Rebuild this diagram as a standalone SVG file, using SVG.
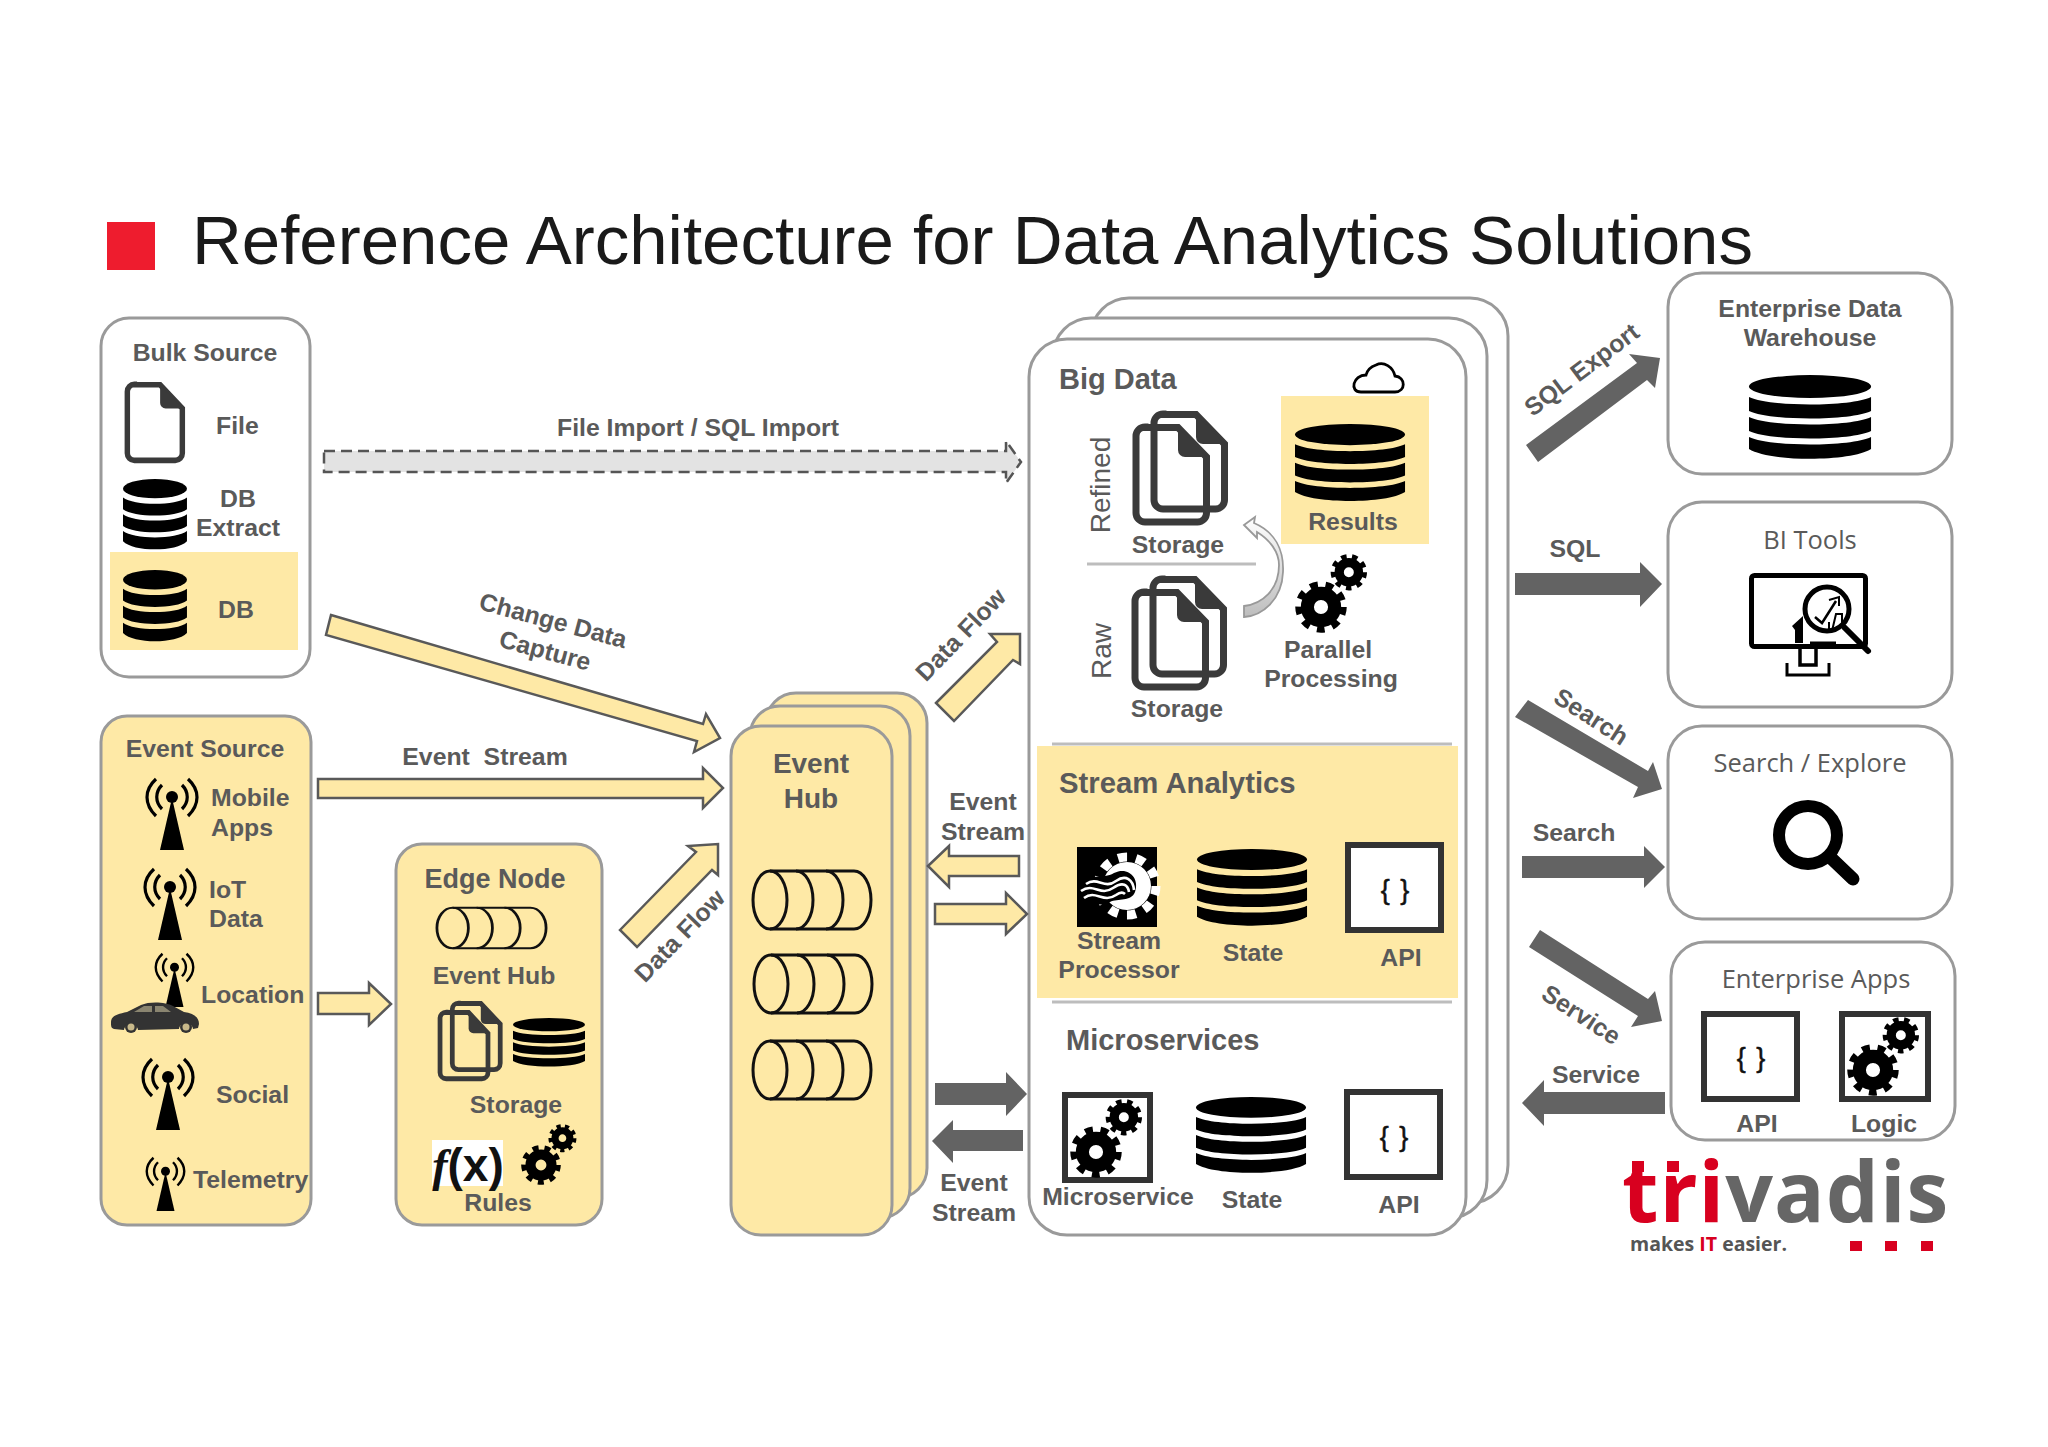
<svg xmlns="http://www.w3.org/2000/svg" width="2048" height="1447" viewBox="0 0 2048 1447">
<style>
text{font-family:"Liberation Sans",Arial,sans-serif}
text:not([transform]){transform:translateY(1px)}
.l{font-weight:700;font-size:24.8px;fill:#5a5a5a}
.m{text-anchor:middle}
.o{font-family:"Open Sans",sans-serif;font-weight:400;font-size:25.5px;fill:#5a5a5a;text-anchor:middle}
.box{fill:#fff;stroke:#9a9a9a;stroke-width:3}
.ybox{fill:#fee9a6;stroke:#9a9a9a;stroke-width:3}
.hl{fill:#fee9a6}
.ya{fill:#fee9a6;stroke:#595959;stroke-width:2.5}
.da{fill:#636363}
.sep{stroke:#bdbdbd;stroke-width:3}
.api{fill:#fff;stroke:#333;stroke-width:6}
.br{font-weight:400;font-size:27px;fill:#111;text-anchor:middle;word-spacing:3px;stroke:#111;stroke-width:.5}
</style>
<defs>
<g id="db">
<ellipse cx="60" cy="11.5" rx="60" ry="11.5"/>
<path d="M0,22 C20,32 100,32 120,22 V36 C100,46 20,46 0,36 Z"/>
<path d="M0,42 C20,52 100,52 120,42 V56 C100,66 20,66 0,56 Z"/>
<path d="M0,62 C20,72 100,72 120,62 V74 C100,87 20,87 0,74 Z"/>
</g>
<g id="tower" fill="none" stroke="#000" stroke-width="3.2">
<circle cx="26" cy="19" r="6" fill="#000" stroke="none"/>
<path d="M26,20 L38,72 H14 Z" fill="#000" stroke="none"/>
<path d="M10,1 C-2,12 -2,26 10,38"/><path d="M42,1 C54,12 54,26 42,38"/>
<path d="M16,7 C9,14 9,24 16,31"/><path d="M36,7 C43,14 43,24 36,31"/>
</g>
<g id="gear" fill="none" stroke="#000">
<circle r="27" stroke-width="26"/>
<circle r="44" stroke-width="14" stroke-dasharray="15.36 15.36"/>
</g>
<g id="gears">
<use href="#gear" transform="translate(0,0) scale(.58)"/>
<use href="#gear" transform="translate(32,-40) scale(.41)"/>
</g>
<g id="file">
<path d="M12,3.5 H45 L73.5,33 V89 a9,9 0 0 1 -9,9 H12 a9,9 0 0 1 -9,-9 V12 a9,9 0 0 1 9,-9 Z" fill="none" stroke="#3a3a3a" stroke-width="7"/>
<path d="M45,3.5 L73.5,33 H52 a7,7 0 0 1 -7,-7 Z" fill="#3a3a3a"/>
</g>
<g id="docs">
<use href="#file" x="18" y="0"/>
<use href="#file" x="0" y="13"/>
</g>
<g id="pipe" fill="none" stroke="#111" stroke-width="3">
<ellipse cx="18" cy="30" rx="17" ry="29"/>
<path d="M18,1 H102 A17,29 0 0 1 102,59 H18"/>
<path d="M44,1 A17,29 0 0 1 44,59"/>
<path d="M74,1 A17,29 0 0 1 74,59"/>
</g>
<linearGradient id="cg" x1="0" y1="0" x2="0" y2="1"><stop offset="0" stop-color="#fff"/><stop offset="1" stop-color="#bdbdbd"/></linearGradient>
</defs>
<rect width="2048" height="1447" fill="#fff"/>

<g id="title">
<rect x="107" y="222" width="48" height="48" fill="#ee1c2e"/>
<text x="192" y="263" font-size="69" fill="#1a1a1a">Reference Architecture for Data Analytics Solutions</text>
</g>

<g id="bulk-source">
<rect class="box" x="101" y="318" width="209" height="359" rx="28"/>
<text class="l m" x="205" y="360">Bulk Source</text>
<use href="#file" transform="translate(125,382) scale(.78,.8)"/>
<text class="l" x="216" y="433">File</text>
<use href="#db" transform="translate(123,479) scale(.533,.84)"/>
<text class="l m" x="238" y="506">DB</text>
<text class="l m" x="238" y="535">Extract</text>
<rect class="hl" x="110" y="552" width="188" height="98"/>
<use href="#db" transform="translate(123,570) scale(.533,.85)"/>
<text class="l m" x="236" y="617">DB</text>
</g>

<g id="event-source">
<rect class="ybox" x="101" y="716" width="210" height="509" rx="26"/>
<text class="l m" x="205" y="756">Event Source</text>
<use href="#tower" x="146" y="778"/>
<text class="l" x="211" y="805">Mobile</text>
<text class="l" x="211" y="835">Apps</text>
<use href="#tower" x="144" y="868"/>
<text class="l" x="209" y="897">IoT</text>
<text class="l" x="209" y="926">Data</text>
<use href="#tower" transform="translate(155,953) scale(.75)"/>
<path d="M111,1022 C111,1016 117,1014 127,1012 L141,1005 C150,1001 166,1002 173,1006 L184,1012 C193,1013 199,1017 199,1024 L198,1028 L193,1029 C192,1021 180,1021 179,1029 L138,1030 C137,1022 125,1022 124,1030 L114,1029 C111,1028 111,1026 111,1022 Z" fill="#333"/>
<path d="M134,1012 L144,1006 H152 V1012 Z M155,1006 H163 L171,1012 H155 Z" fill="#8a8570"/>
<circle cx="131" cy="1027" r="6" fill="#333"/><circle cx="131" cy="1027" r="3.5" fill="#c8b98a"/>
<circle cx="186" cy="1027" r="6" fill="#333"/><circle cx="186" cy="1027" r="3.5" fill="#c8b98a"/>
<text class="l" x="201" y="1002">Location</text>
<use href="#tower" x="142" y="1058"/>
<text class="l" x="216" y="1102">Social</text>
<use href="#tower" transform="translate(146,1157) scale(.75)"/>
<text class="l" x="193" y="1187">Telemetry</text>
</g>

<g id="edge-node">
<rect class="ybox" x="396" y="844" width="206" height="381" rx="26"/>
<text class="l m" x="495" y="887" style="font-size:27px">Edge Node</text>
<use href="#pipe" transform="translate(436,907) scale(.925,.7)"/>
<text class="l m" x="494" y="983">Event Hub</text>
<use href="#docs" transform="translate(438,1001) scale(.68,.7)"/>
<use href="#db" transform="translate(513,1018) scale(.6,.58)"/>
<text class="l m" x="516" y="1112">Storage</text>
<rect x="432" y="1140" width="71" height="46" fill="#fff"/>
<text x="468" y="1180" font-size="46" font-weight="700" fill="#111" text-anchor="middle"><tspan font-style="italic" font-family="Liberation Serif, serif">f</tspan>(x)</text>
<use href="#gears" transform="translate(541,1165) scale(.67)"/>
<text class="l m" x="498" y="1210">Rules</text>
</g>

<g id="event-hub">
<rect class="ybox" x="766" y="693" width="161" height="505" rx="30"/>
<rect class="ybox" x="750" y="706" width="160" height="512" rx="30"/>
<rect class="ybox" x="731" y="726" width="161" height="509" rx="30"/>
<text class="l m" x="811" y="772" style="font-size:28px">Event</text>
<text class="l m" x="811" y="807" style="font-size:28px">Hub</text>
<use href="#pipe" x="752" y="870"/>
<use href="#pipe" x="753" y="954"/>
<use href="#pipe" x="752" y="1040"/>
</g>

<g id="big-data">
<rect class="box" x="1091" y="298" width="417" height="905" rx="38"/>
<rect class="box" x="1053" y="318" width="434" height="900" rx="38"/>
<rect class="box" x="1029" y="339" width="437" height="896" rx="38"/>
<text class="l" x="1059" y="388" style="font-size:29px">Big Data</text>
<path d="M1361,392 H1395 C1406,392 1406,377 1395,376 C1393,367 1384,361 1376,365 C1370,367 1367,371 1366,375 C1353,375 1349,392 1361,392 Z" fill="#fff" stroke="#000" stroke-width="2.8"/>
<rect class="hl" x="1281" y="396" width="148" height="148"/>
<use href="#db" transform="translate(1295,424) scale(.917,.92)"/>
<text class="l m" x="1353" y="529">Results</text>
<text x="1110" y="485" transform="rotate(-90 1110 485)" font-size="28" fill="#5a5a5a" text-anchor="middle">Refined</text>
<use href="#docs" x="1133" y="411"/>
<text class="l m" x="1178" y="552">Storage</text>
<line class="sep" x1="1087" y1="564" x2="1256" y2="564"/>
<text x="1111" y="651" transform="rotate(-90 1111 651)" font-size="28" fill="#5a5a5a" text-anchor="middle">Raw</text>
<use href="#docs" x="1132" y="576"/>
<text class="l m" x="1177" y="716">Storage</text>
<path d="M1244,525 L1255,517 L1254,523 C1275,532 1284,550 1283,572 C1282,600 1262,616 1244,617 L1244,606 C1262,604 1279,590 1279,565 C1279,552 1270,540 1257,532 L1257,538 Z" fill="url(#cg)" stroke="#999" stroke-width="1.8"/>
<use href="#gears" transform="translate(1321,607) scale(.87)"/>
<text class="l m" x="1328" y="657">Parallel</text>
<text class="l m" x="1331" y="686">Processing</text>
</g>

<g id="stream-analytics">
<line class="sep" x1="1052" y1="744" x2="1452" y2="744"/>
<rect class="hl" x="1037" y="746" width="421" height="252"/>
<line class="sep" x1="1052" y1="1002" x2="1452" y2="1002"/>
<text class="l" x="1059" y="792" style="font-size:29.3px">Stream Analytics</text>
<rect x="1077" y="847" width="80" height="80" fill="#000"/>
<circle cx="1127" cy="886" r="24" fill="#fff"/>
<circle cx="1127" cy="886" r="29" fill="none" stroke="#fff" stroke-width="9" stroke-dasharray="9.1 9.1"/>
<path d="M1079,884 C1092,872 1102,880 1114,873 C1128,866 1140,878 1135,892 C1131,902 1118,898 1110,902 C1100,908 1088,902 1079,896 Z" fill="#000"/>
<g fill="none" stroke="#fff" stroke-width="2.6"><path d="M1086,884 C1098,876 1104,890 1116,881 C1126,874 1133,880 1134,890"/><path d="M1081,891 C1094,882 1100,897 1113,888 C1123,881 1128,885 1129,892"/><path d="M1084,898 C1096,889 1103,904 1116,895 C1120,892 1123,892 1125,894"/></g>
<text class="l m" x="1119" y="948">Stream</text>
<text class="l m" x="1119" y="977">Processor</text>
<use href="#db" transform="translate(1197,849) scale(.917,.915)"/>
<text class="l m" x="1253" y="960">State</text>
<rect class="api" x="1348" y="845" width="93" height="85"/>
<text class="br" x="1395" y="898">{ }</text>
<text class="l m" x="1401" y="965">API</text>
</g>

<g id="microservices">
<text class="l" x="1066" y="1049" style="font-size:29px">Microservices</text>
<rect class="api" x="1065" y="1095" width="85" height="85"/>
<use href="#gears" transform="translate(1096,1152) scale(.87)"/>
<text class="l m" x="1118" y="1204">Microservice</text>
<use href="#db" transform="translate(1196,1097) scale(.917,.905)"/>
<text class="l m" x="1252" y="1207">State</text>
<rect class="api" x="1347" y="1092" width="93" height="85"/>
<text class="br" x="1394" y="1145">{ }</text>
<text class="l m" x="1399" y="1212">API</text>
</g>

<g id="enterprise-dw">
<rect class="box" x="1668" y="273" width="284" height="201" rx="34"/>
<text class="l m" x="1810" y="316">Enterprise Data</text>
<text class="l m" x="1810" y="345">Warehouse</text>
<use href="#db" transform="translate(1749,375) scale(1.017,1)"/>
</g>

<g id="bi-tools">
<rect class="box" x="1668" y="502" width="284" height="205" rx="34"/>
<text class="o" x="1810" y="548">BI Tools</text>
<rect x="1751.5" y="575.5" width="114" height="71" rx="3" fill="#fff" stroke="#000" stroke-width="5"/>
<path d="M1800,648 V665 H1816 V648" fill="none" stroke="#000" stroke-width="3.5"/>
<path d="M1787,663 V675 H1829 V663" fill="none" stroke="#000" stroke-width="3"/>
<path d="M1792,626 L1803,616 V643 H1795 V630 Z" fill="#000"/>
<circle cx="1827" cy="609" r="22" fill="#fff" stroke="#000" stroke-width="5"/>
<line x1="1845" y1="628" x2="1868" y2="651" stroke="#000" stroke-width="6" stroke-linecap="round"/>
<path d="M1815,617 L1822,623 L1836,601" fill="none" stroke="#000" stroke-width="2.5"/>
<path d="M1829,600 L1839,597 V606 M1829,622 V630 M1836,614 H1842 V625 L1832,631 Z" fill="none" stroke="#000" stroke-width="2"/>
<path d="M1810,643 H1836" stroke="#000" stroke-width="3"/>
</g>

<g id="search-explore">
<rect class="box" x="1668" y="726" width="284" height="193" rx="34"/>
<text class="o" x="1810" y="771">Search / Explore</text>
<circle cx="1808" cy="835" r="29" fill="none" stroke="#000" stroke-width="12"/>
<line x1="1831" y1="858" x2="1853" y2="879" stroke="#000" stroke-width="13" stroke-linecap="round"/>
</g>

<g id="enterprise-apps">
<rect class="box" x="1671" y="942" width="284" height="198" rx="34"/>
<text class="o" x="1816" y="987">Enterprise Apps</text>
<rect class="api" x="1704" y="1014" width="93" height="85"/>
<text class="br" x="1751" y="1066">{ }</text>
<text class="l m" x="1757" y="1131">API</text>
<rect class="api" x="1842" y="1014" width="86" height="85"/>
<use href="#gears" transform="translate(1873,1070) scale(.87)"/>
<text class="l m" x="1884" y="1131">Logic</text>
</g>

<g id="connectors">
<path d="M324,451 H1006 V441 L1021,462 L1006,483 V472 H324 Z" fill="#e3e3e3" stroke="#555" stroke-width="2.5" stroke-dasharray="11 6"/>
<text class="l m" x="698" y="435">File Import / SQL Import</text>
<polygon class="ya" points="331,615 703,724 706,714 720,738 694,752 697,741 326,635"/>
<text class="l m" transform="translate(553,621) rotate(15)" y="8">Change Data</text>
<text class="l m" transform="translate(545,651) rotate(15)" y="8">Capture</text>
<polygon class="ya" points="318,779 703,779 703,768 723,788 703,808 703,798 318,798"/>
<text class="l m" x="485" y="764" xml:space="preserve">Event  Stream</text>
<polygon class="ya" points="318,993 369,993 369,983 391,1004 369,1025 369,1014 318,1014"/>
<polygon class="ya" points="620,930 696,852 688,846 718,844 718,875 712,870 637,947"/>
<text class="l m" transform="translate(680,936) rotate(-46)" y="8">Data Flow</text>
<polygon class="ya" points="936,703 997,642 990,634 1020,634 1020,664 1013,660 954,721"/>
<text class="l m" transform="translate(961,635) rotate(-46)" y="8">Data Flow</text>
<text class="l m" x="983" y="809">Event</text>
<text class="l m" x="983" y="839">Stream</text>
<polygon class="ya" points="928,866 949,846 949,856 1019,856 1019,876 949,876 949,887"/>
<polygon class="ya" points="935,904 1006,904 1006,893 1027,914 1006,934 1006,924 935,924"/>
<polygon class="da" points="935,1083 1006,1083 1006,1072 1027,1094 1006,1116 1006,1105 935,1105"/>
<polygon class="da" points="932,1141 953,1120 953,1130 1023,1130 1023,1151 953,1151 953,1163"/>
<text class="l m" x="974" y="1190">Event</text>
<text class="l m" x="974" y="1220">Stream</text>
<polygon class="da" points="1526,445 1637,363 1629,354 1660,358 1655,388 1647,380 1538,462"/>
<text class="l m" transform="translate(1582,370) rotate(-37)" y="8">SQL Export</text>
<polygon class="da" points="1515,573 1640,573 1640,562 1662,584 1640,607 1640,595 1515,595"/>
<text class="l m" x="1575" y="556">SQL</text>
<polygon class="da" points="1528,700 1648,771 1653,762 1662,789 1633,798 1638,787 1515,717"/>
<text class="l m" transform="translate(1591,717) rotate(33)" y="8">Search</text>
<polygon class="da" points="1522,856 1644,856 1644,846 1665,867 1644,888 1644,878 1522,878"/>
<text class="l m" x="1574" y="840">Search</text>
<polygon class="da" points="1540,930 1648,999 1655,991 1662,1021 1631,1027 1638,1016 1529,947"/>
<text class="l m" transform="translate(1581,1015) rotate(33)" y="8">Service</text>
<polygon class="da" points="1665,1092 1544,1092 1544,1080 1522,1103 1544,1126 1544,1114 1665,1114"/>
<text class="l m" x="1596" y="1082">Service</text>
</g>

<g id="logo">
<text x="1622" y="1221" font-size="84" font-weight="700" letter-spacing="1" fill="#666" style="font-family:'Open Sans',sans-serif"><tspan fill="#d8001f">tri</tspan>vadis</text>
<rect x="1632" y="1161" width="12" height="11" fill="#d8001f"/>
<rect x="1667" y="1161" width="12" height="11" fill="#d8001f"/>
<text x="1630" y="1250" font-size="19.5" font-weight="700" fill="#555" style="font-family:'Open Sans',sans-serif">makes <tspan fill="#d8001f">IT</tspan> easier.</text>
<rect x="1850" y="1241" width="12" height="10" fill="#d8001f"/>
<rect x="1885" y="1241" width="12" height="10" fill="#d8001f"/>
<rect x="1921" y="1241" width="12" height="10" fill="#d8001f"/>
</g>
</svg>
